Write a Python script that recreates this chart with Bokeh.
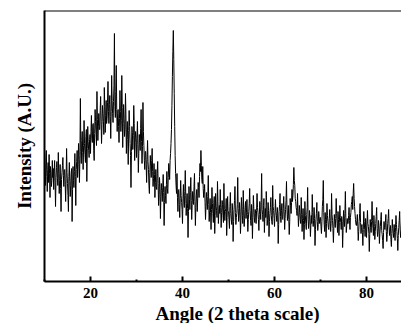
import numpy as np
from bokeh.plotting import figure
from bokeh.models import Range1d, FixedTicker, Span, ColumnDataSource, Title
from bokeh.embed import file_html
from bokeh.resources import INLINE

# XRD step scan: start angle and step (degrees 2-theta)
SCAN_START = 10.0
SCAN_STEP = 0.1

# Intensity (arbitrary units), one value per step
intensity = [
    118, 101, 96, 124, 131, 105, 90, 112, 119, 99, 127, 108, 84, 115, 110, 95, 101, 121, 104, 113,    # 10-12
    92, 110, 121, 99, 75, 104, 114, 120, 103, 96, 129, 108, 88, 101, 117, 93, 70, 102, 109, 116,      # 12-14
    124, 106, 95, 111, 112, 97, 80, 103, 133, 109, 98, 86, 70, 105, 119, 100, 85, 96, 108, 113,       # 14-16
    60, 92, 115, 101, 94, 110, 128, 105, 76, 112, 120, 131, 104, 117, 138, 122, 99, 126, 183, 130,    # 16-18
    118, 141, 150, 129, 112, 136, 161, 138, 127, 119, 145, 152, 100, 133, 155, 140, 131, 124, 142, 147,  # 18-20
    128, 150, 166, 143, 139, 157, 158, 131, 121, 148, 172, 160, 147, 136, 190, 162, 141, 155, 168, 152,  # 20-22
    152, 171, 185, 160, 138, 157, 176, 168, 160, 147, 194, 175, 149, 166, 181, 158, 163, 179, 200, 170,  # 22-24
    158, 177, 186, 165, 143, 170, 206, 181, 168, 159, 180, 196, 248, 175, 164, 190, 216, 172, 150, 168,  # 24-26
    172, 155, 139, 163, 191, 170, 150, 161, 206, 174, 134, 158, 177, 163, 145, 152, 188, 167, 128, 149,  # 26-28
    160, 142, 117, 151, 171, 155, 138, 126, 94, 130, 155, 149, 132, 146, 176, 158, 121, 139, 150, 144,   # 28-30
    124, 143, 160, 137, 109, 128, 147, 139, 131, 153, 172, 140, 118, 135, 179, 150, 136, 121, 112, 130,  # 30-32
    130, 117, 99, 122, 141, 120, 112, 96, 88, 109, 126, 115, 104, 121, 133, 110, 95, 103, 118, 107,     # 32-34
    84, 99, 112, 95, 92, 108, 120, 98, 76, 87, 104, 93, 63, 85, 98, 91, 80, 94, 107, 89,               # 34-36
    56, 79, 95, 86, 78, 97, 110, 93, 88, 104, 118, 112, 102, 121, 128, 138, 152, 176, 205, 230,        # 36-38
    251, 222, 188, 155, 126, 108, 96, 88, 108, 84, 70, 91, 92, 77, 64, 83, 101, 86, 79, 72,            # 38-40
    58, 83, 97, 79, 74, 90, 111, 86, 66, 78, 88, 73, 44, 70, 95, 82, 72, 89, 104, 81,                  # 40-42
    62, 77, 90, 84, 77, 95, 108, 80, 56, 74, 86, 92, 70, 83, 99, 94, 84, 105, 118, 110,                # 42-44
    131, 116, 102, 98, 115, 93, 84, 90, 97, 79, 62, 75, 89, 81, 72, 85, 106, 77, 60, 71,               # 44-46
    83, 69, 52, 72, 94, 78, 68, 59, 79, 85, 48, 66, 88, 75, 71, 64, 100, 80, 58, 70,                   # 46-48
    76, 68, 92, 74, 54, 69, 81, 77, 66, 59, 98, 72, 61, 70, 73, 83, 46, 64, 85, 71,                    # 48-50
    70, 62, 53, 75, 89, 68, 62, 57, 78, 71, 40, 60, 72, 81, 95, 69, 57, 64, 68, 77,                    # 50-52
    104, 73, 60, 66, 79, 70, 48, 61, 84, 75, 66, 58, 91, 72, 55, 63, 74, 80, 63, 69,                   # 52-54
    82, 67, 50, 62, 70, 78, 93, 71, 61, 56, 77, 69, 43, 64, 86, 73, 64, 59, 72, 68,                    # 54-56
    58, 71, 88, 74, 69, 62, 51, 67, 80, 70, 62, 79, 108, 72, 67, 60, 76, 83, 49, 65,                   # 56-58
    73, 64, 90, 76, 56, 62, 79, 71, 45, 60, 68, 74, 84, 66, 60, 57, 96, 75, 71, 63,                    # 58-60
    55, 69, 82, 70, 66, 60, 74, 68, 38, 57, 70, 77, 88, 65, 59, 71, 78, 63, 62, 73,                    # 60-62
    85, 70, 52, 63, 72, 81, 100, 74, 61, 67, 76, 62, 47, 60, 83, 76, 68, 79, 92, 80,                   # 62-64
    86, 97, 114, 101, 96, 83, 80, 74, 71, 66, 88, 70, 55, 64, 76, 69, 62, 58, 84, 67,                  # 64-66
    50, 63, 73, 61, 42, 57, 80, 66, 58, 52, 67, 74, 94, 62, 53, 60, 71, 64, 45, 56,                    # 66-68
    66, 58, 87, 69, 55, 61, 74, 63, 36, 52, 62, 68, 79, 60, 51, 57, 70, 65, 58, 62,                    # 68-70
    64, 55, 48, 60, 75, 82, 101, 69, 57, 50, 69, 62, 44, 58, 78, 66, 60, 54, 52, 63,                   # 70-72
    72, 61, 50, 58, 88, 67, 61, 53, 39, 55, 67, 60, 54, 63, 83, 68, 58, 49, 70, 62,                    # 72-74
    46, 59, 76, 64, 59, 52, 65, 60, 34, 51, 71, 63, 55, 68, 90, 64, 49, 56, 63, 58,                    # 74-76
    58, 66, 74, 61, 52, 64, 69, 77, 80, 85, 72, 88, 98, 83, 75, 68, 62, 57, 56, 61,                    # 76-78
    67, 55, 41, 50, 60, 68, 78, 59, 48, 54, 57, 49, 36, 52, 70, 60, 52, 45, 63, 56,                    # 78-80
    44, 57, 71, 58, 55, 48, 30, 47, 62, 54, 49, 60, 80, 61, 53, 46, 66, 55, 42, 50,                    # 80-82
    58, 65, 74, 53, 45, 50, 61, 56, 38, 48, 55, 62, 69, 51, 47, 41, 33, 49, 60, 54,                    # 82-84
    52, 59, 67, 50, 40, 47, 58, 63, 72, 55, 46, 51, 56, 42, 35, 48, 62, 53, 48, 44,                    # 84-86
    57, 49, 41, 54, 66, 57, 50, 43, 31, 46, 54, 61, 70, 52, 44, 50, 59, 48, 47, 53,                    # 86-88
    52,                                                                                                # 88
]

two_theta = SCAN_START + SCAN_STEP * np.arange(len(intensity))

x_ticks = [20, 40, 60, 80]
x_minor_ticks = [10, 30, 50, 70, 90]

X_MIN, X_MAX = 10, 87.6
Y_MIN, Y_MAX = 0, 271

FONT = "Liberation Serif"

p = figure(
    frame_width=357, frame_height=271,
    min_border_left=44, min_border_right=0, min_border_top=10, min_border_bottom=0,
    x_range=Range1d(X_MIN, X_MAX), y_range=Range1d(Y_MIN, Y_MAX),
    output_backend="svg", toolbar_location=None,
)
p.outline_line_color = None
p.grid.visible = False
p.background_fill_color = "white"
p.border_fill_color = "white"

src = ColumnDataSource(dict(x=two_theta, y=intensity))
p.line("x", "y", source=src, line_color="black", line_width=1.0)

# top border
p.add_layout(Span(location=Y_MAX, dimension="width", line_color="black", line_width=2))

xa = p.xaxis[0]
xa.ticker = FixedTicker(ticks=x_ticks, minor_ticks=x_minor_ticks)
xa.axis_line_width = 2
xa.major_tick_in = 5
xa.major_tick_out = 0
xa.minor_tick_in = 2
xa.minor_tick_out = 0
xa.major_tick_line_width = 2
xa.minor_tick_line_width = 2
xa.major_label_text_font = FONT
xa.major_label_text_font_style = "bold"
xa.major_label_text_font_size = "15px"
xa.major_label_text_color = "black"
xa.major_label_standoff = 6

x_title = Title(
    text="Angle (2 theta scale)", align="left", offset=111, standoff=0,
    text_font=FONT, text_font_style="bold", text_font_size="19px",
    text_color="black",
)
p.add_layout(x_title, "below")

ya = p.yaxis[0]
ya.ticker = FixedTicker(ticks=[])
ya.axis_line_width = 2
ya.major_tick_line_color = None
ya.minor_tick_line_color = None
ya.major_label_text_font_size = "0px"
ya.axis_label = "Intensity (A.U.)"
ya.axis_label_text_font = FONT
ya.axis_label_text_font_style = "bold"
ya.axis_label_text_font_size = "19px"
ya.axis_label_text_color = "black"
ya.axis_label_standoff = 10

open("out.html", "w").write(file_html(p, INLINE))
